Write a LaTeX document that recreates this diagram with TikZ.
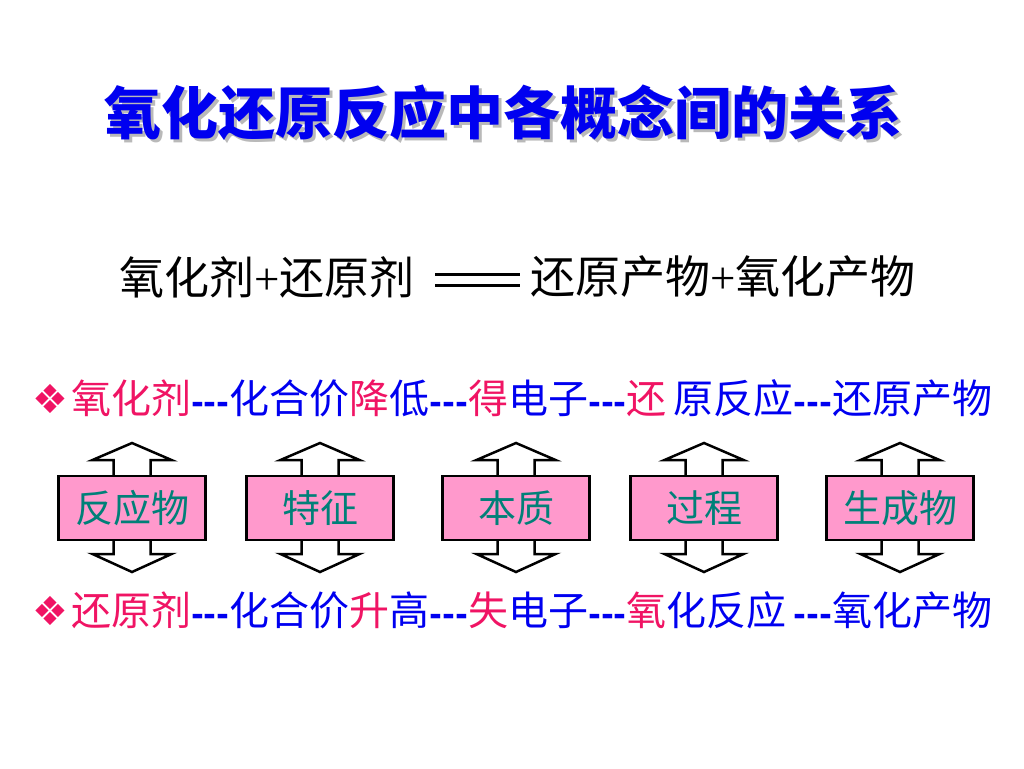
\documentclass[tikz,border=0pt]{standalone}
\usepackage{fontspec}
\setmainfont{Liberation Serif}
\newfontfamily\cjk{Noto Sans CJK SC}
\newfontfamily\symb{DejaVu Sans}

\definecolor{hotpink}{RGB}{240,20,100}
\definecolor{pureblue}{RGB}{0,0,240}
\definecolor{boxpink}{RGB}{255,153,204}
\definecolor{tealtext}{RGB}{0,128,120}

\newcommand{\hl}[1]{\textcolor{hotpink}{#1}}
\newcommand{\dsh}{{\symb\bfseries\fontsize{31}{33}\selectfont -{}-{}-}}
\newcommand{\dia}{{\symb\fontsize{40}{42}\selectfont\textcolor{hotpink}{❖}}\hspace{3pt}}

\tikzset{
  box/.style={draw, line width=2.5pt, fill=boxpink, minimum width=147pt,
    minimum height=64pt, text=tealtext, font=\cjk\fontsize{38}{40}\selectfont},
  updown/.style={draw, line width=2.5pt, fill=white, line join=miter},
  row/.style={anchor=west, inner sep=0pt, text=pureblue,
    font=\cjk\fontsize{40}{42}\selectfont},
  eqtext/.style={inner sep=0pt, font=\cjk\fontsize{45}{48}\selectfont},
  titletext/.style={font=\cjk\bfseries\fontsize{57}{60}\selectfont},
}

\begin{document}
\begin{tikzpicture}[x=1pt,y=-1pt]
  \useasboundingbox (0,0) rectangle (1024,768);
  % title with shadow
  \node[titletext,text=gray!55] at (506,116) {氧化还原反应中各概念间的关系};
  \node[titletext,text=pureblue] (title) at (503,113) {氧化还原反应中各概念间的关系};
  % equation
  \node[eqtext,anchor=east] (lhs) at (415,277) {氧化剂{\rmfamily +}还原剂};
  \node[eqtext,anchor=west] (rhs) at (530,277) {还原产物{\rmfamily +}氧化产物};
  \draw[line width=2.8pt,double distance=7.5pt] ([xshift=20pt,yshift=-3pt]lhs.east) -- ([xshift=-10pt,yshift=-3pt]rhs.west);
  % the two rows
  \node[row] (ox) at (32,398) {\dia\hl{氧化剂}\dsh 化合价\hl{降}低\dsh\hl{得}电子\dsh\hl{还}\,原反应\dsh 还原产物};
  \node[row] (red) at (32,610) {\dia\hl{还原剂}\dsh 化合价\hl{升}高\dsh\hl{失}电子\dsh\hl{氧}化反应\,\dsh 氧化产物};
  % boxes with up/down arrows
  \foreach \n/\x/\t in {1/132/反应物,2/320/特征,3/516/本质,4/704/过程,5/900/生成物}{
    \draw[updown] (\x,443) -- ++(39.5,17) -- ++(-21,0) -- ++(0,94) -- ++(21,0)
      -- ++(-39.5,18) -- ++(-39.5,-18) -- ++(21,0) -- ++(0,-94) -- ++(-21,0) -- cycle;
    \node[box] (b\n) at (\x,508) {\t};
  }
\end{tikzpicture}
\end{document}
